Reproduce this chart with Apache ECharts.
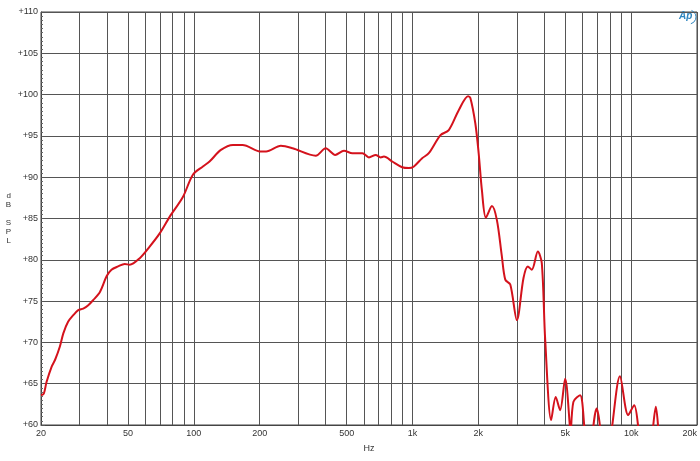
<!DOCTYPE html>
<html>
<head>
<meta charset="utf-8">
<script src="https://cdn.jsdelivr.net/npm/echarts@6/dist/echarts.min.js"></script>
<style>html,body{margin:0;padding:0;background:#fff}#c{width:700px;height:461px}</style>
</head>
<body>
<div id="c"></div>
<script>
const freqHz = [20,20.6,21.2,22.4,23.2,24.4,25.3,26.6,28.1,29.6,31.2,32.9,34.6,37.2,39.9,42,45,48.3,50.9,56.6,62.8,69.8,77.5,89.1,99,110,118,133,151,167,203,214,250,283,361,401,443,486,531,590,632,679,715,740,808,897,963,1015,1107,1187,1343,1465,1627,1794,1839,1938,2007,2077,2166,2308,2432,2560,2656,2800,3002,3218,3368,3512,3742,3902,4044,4306,4518,4732,4988,5256,5270,5442,5838,6106,6250,6600,6714,6950,7202,7350,7800,8150,8884,9692,10324,10766,11100,12300,12602,12964,13280,13600,16000,20000];
const splDb = [63.6,63.8,65.2,67.1,67.9,69.5,71.1,72.5,73.3,73.9,74.1,74.5,75.1,76.1,78.0,78.8,79.2,79.5,79.4,80.2,81.6,83.2,85.2,87.6,90.3,91.3,91.9,93.3,93.9,93.9,93.1,93.1,93.8,93.5,92.6,93.5,92.7,93.2,92.9,92.9,92.4,92.7,92.4,92.5,91.9,91.2,91.1,91.3,92.3,92.9,95.1,95.7,98.1,99.8,99.6,96.5,92.9,88.4,85.1,86.5,84.8,80.5,77.6,77.0,72.7,77.8,79.2,78.8,81.0,79.6,70.3,60.6,63.4,61.8,65.6,59.5,58.5,62.8,63.6,59.8,56,56,59.8,62.0,59.8,56,56,59.5,65.9,61.2,62.4,59.8,56,56,59.8,62.2,59.8,55,52,50];
const xLabelTicks = [20,50,100,200,500,1000,2000,5000,10000,20000];
const xGridTicks = [20,30,40,50,60,70,80,90,100,200,300,400,500,600,700,800,900,1000,2000,3000,4000,5000,6000,7000,8000,9000,10000,20000];

const chart = echarts.init(document.getElementById('c'));
chart.setOption({
  animation: false,
  backgroundColor: '#fff',
  grid: {left: 41, right: 1, top: 12, bottom: 36, show: true, borderColor: '#444', borderWidth: 1},
  xAxis: {
    type: 'log', min: 20, max: 20000, logBase: 10,
    name: 'Hz', nameLocation: 'middle', nameGap: 19,
    nameTextStyle: {fontFamily: 'Liberation Sans', fontSize: 9, color: '#333'},
    axisLine: {show: true, lineStyle: {color: '#444', width: 1}},
    axisTick: {show: false, customValues: xGridTicks},
    axisLabel: {customValues: xLabelTicks, fontFamily: 'Liberation Sans', fontSize: 9, color: '#333', margin: 4,
      alignMaxLabel: 'right',
      formatter: v => v >= 1000 ? (v / 1000) + 'k' : String(v)},
    splitLine: {show: true, lineStyle: {color: '#555', width: 1}},
    minorTick: {show: false}
  },
  yAxis: {
    type: 'value', min: 60, max: 110, interval: 5,
    name: 'd\nB\n\nS\nP\nL', nameLocation: 'middle', nameGap: 30, nameRotate: 0,
    nameTextStyle: {fontFamily: 'Liberation Sans', fontSize: 8, color: '#333', lineHeight: 9},
    axisLine: {show: true, lineStyle: {color: '#444', width: 1}},
    axisTick: {show: true, inside: true, length: 4, lineStyle: {color: '#555'}},
    minorTick: {show: true, splitNumber: 10, length: 2, lineStyle: {color: '#666'}},
    axisLabel: {fontFamily: 'Liberation Sans', fontSize: 9, color: '#333', margin: 3,
      formatter: v => '+' + v},
    splitLine: {show: true, lineStyle: {color: '#555', width: 1}}
  },
  series: [{
    type: 'line',
    data: freqHz.map((f, i) => [f, splDb[i]]),
    showSymbol: false,
    smooth: 0.3,
    clip: true,
    lineStyle: {color: '#d4121c', width: 2}
  }],
  graphic: [
    {type: 'text', left: 679, top: 11, style: {text: 'Ap', font: 'italic bold 10px Liberation Sans', fill: '#2f86c0'}},
    {type: 'arc', shape: {cx: 689, cy: 17, r: 7, startAngle: -1.2, endAngle: 1.3}, style: {stroke: '#2f86c0', lineWidth: 1, fill: null}}
  ]
});
</script>
</body>
</html>
